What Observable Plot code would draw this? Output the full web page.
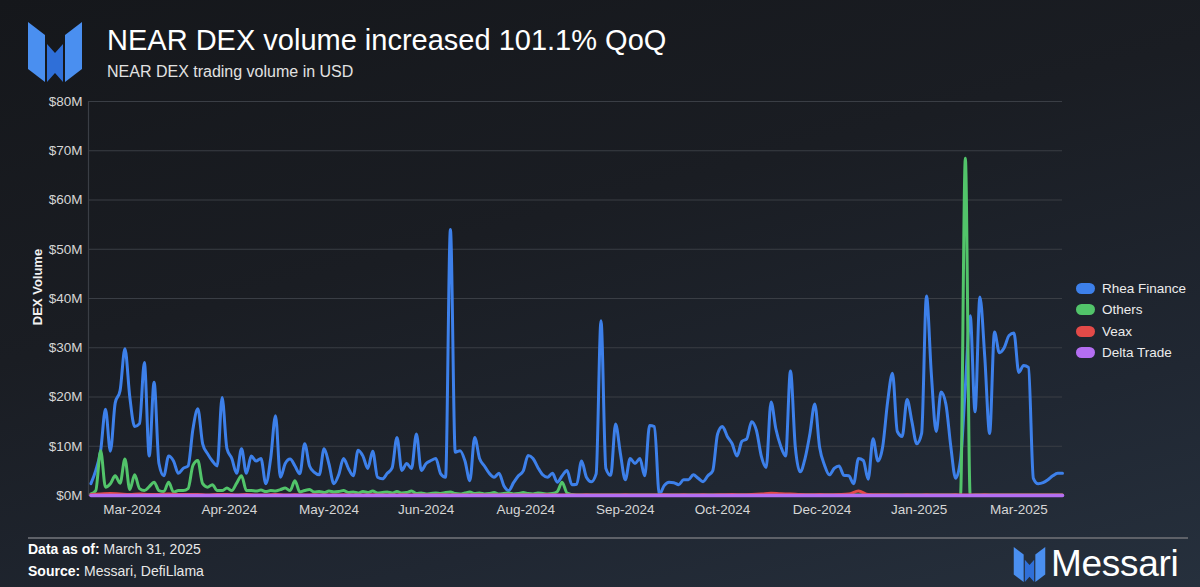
<!DOCTYPE html>
<html>
<head>
<meta charset="utf-8">
<script src="https://cdn.jsdelivr.net/npm/d3@7"></script>
<script src="https://cdn.jsdelivr.net/npm/@observablehq/plot@0.6"></script>
<style>
  html, body { margin: 0; padding: 0; }
  body { width: 1200px; height: 587px; overflow: hidden; font-family: "Liberation Sans", Arial, Helvetica, sans-serif; }
  #page { position: relative; width: 1200px; height: 587px; overflow: hidden;
    background: linear-gradient(165deg, #15171b 0%, #1a1d23 40%, #202732 75%, #26303d 100%); color: #fff; }
  #logo { position: absolute; left: 28px; top: 22px; }
  #title { position: absolute; left: 107px; top: 24px; font-size: 29px; color: #fff; white-space: nowrap; letter-spacing: 0; }
  #subtitle { position: absolute; left: 107px; top: 63px; font-size: 16px; color: #e2e2e2; white-space: nowrap; }
  #chart { position: absolute; left: 0; top: 88px; }
  #ylabel { position: absolute; left: 37px; top: 287px; transform: translate(-50%, -50%) rotate(-90deg);
    font-size: 13px; font-weight: bold; color: #f2f2f2; white-space: nowrap; }
  #legend { position: absolute; left: 1076px; top: 278px; }
  .item { display: flex; align-items: center; height: 21.3px; font-size: 13.5px; color: #ececec; white-space: nowrap; }
  .sw { width: 19px; height: 11px; border-radius: 6px; margin-right: 7px; }
  #rule { position: absolute; left: 28px; top: 537px; width: 1160px; height: 2px; background: #5e6168; }
  #foot1, #foot2 { position: absolute; left: 28px; font-size: 14px; color: #e8e8e8; white-space: nowrap; }
  #foot1 { top: 541px; }
  #foot2 { top: 563px; }
  #foot1 b, #foot2 b { color: #fff; }
  #brand { position: absolute; left: 1013px; top: 543px; display: flex; align-items: center; }
  #brand span { font-size: 37px; color: #fff; margin-left: 5px; letter-spacing: -0.3px; }
</style>
</head>
<body>
<div id="page">
  <svg id="logo" width="54" height="60" viewBox="0 0 54 60">
    <polygon points="0,0 17,13 17,60 0,47" fill="#4a8ff0"/>
    <polygon points="19,22 27,31 35,22 35,60 27,51 19,60" fill="#2f6fd8"/>
    <polygon points="54,0 37,13 37,60 54,47" fill="#4a8ff0"/>
  </svg>
  <div id="title">NEAR DEX volume increased 101.1% QoQ</div>
  <div id="subtitle">NEAR DEX trading volume in USD</div>
  <div id="chart"></div>
  <div id="ylabel">DEX Volume</div>
  <div id="legend"></div>
  <div id="rule"></div>
  <div id="foot1"><b>Data as of:</b> March 31, 2025</div>
  <div id="foot2"><b>Source:</b> Messari, DefiLlama</div>
  <div id="brand">
    <svg width="33" height="35" viewBox="0 0 54 60">
      <polygon points="0,0 17,13 17,60 0,47" fill="#4a8ff0"/>
      <polygon points="19,22 27,31 35,22 35,60 27,51 19,60" fill="#2f6fd8"/>
      <polygon points="54,0 37,13 37,60 54,47" fill="#4a8ff0"/>
    </svg>
    <span>Messari</span>
  </div>
</div>
<script>
// ---- data (USD millions) ----
const seriesNames = ["Rhea Finance", "Others", "Veax", "Delta Trade"];
const seriesColors = ["#3d80ea", "#52c46a", "#e34a48", "#b46ef2"];

const domainStart = "2024-02-24";
const domainEnd = "2025-03-31";
const firstDate = "2024-02-25";

// Rhea Finance, every 2 days from 2024-02-25
const rheaStepDays = 2;
const rheaValues = [
  2.4, 5.1, 9.1, 17.5, 9, 18.8, 21.3, 29.8, 20, 14,
  14.6, 27, 8, 23, 6.5, 4, 8, 7, 4.5, 5.5,
  6, 13.5, 17.6, 10.5, 8.5, 7, 6, 19.9, 9.5, 7.5,
  4.5, 9.5, 4.5, 8, 7, 7.5, 2.4, 7.5, 16.2, 3.7,
  6.5, 7.4, 6, 4.4, 10.5, 6, 4.7, 4.2, 9.5, 6.4,
  2.4, 4.2, 7.5, 5.5, 4, 9.2, 8, 5.5, 9, 3.7,
  3.4, 4.5, 5.6, 11.8, 5.1, 6.5, 5.5, 12.5, 5.1, 6.5,
  7.1, 7.5, 4.4, 3.7, 54, 8.8, 9.1, 7, 3, 11.8,
  7.5, 6, 4.5, 3.7, 4.5, 2, 1, 2.6, 4, 5,
  8.1, 7.5, 5.7, 4.2, 3.7, 4.5, 2.7, 4, 5.1, 2.2,
  2.3, 7, 3.7, 2.8, 4.4, 35.5, 5.5, 4.1, 14.5, 8.5,
  3.2, 7.5, 6.5, 7.5, 4, 14.2, 14, 0.2, 2, 2.7,
  2.6, 2.2, 3.2, 3.2, 4.2, 3.5, 2.8, 4, 5, 12.5,
  14, 12, 10.5, 8, 11, 11.5, 15, 13.2, 8, 5.7,
  19, 13.5, 10, 8, 25.3, 9.8, 4.8, 7.5, 12.5, 18.6,
  9.8, 6.2, 4.2, 5.5, 6, 4.1, 4, 2.4, 7.5, 7.1,
  3.3, 11.5, 7, 10, 19, 24.8, 13, 12, 19.5, 15,
  10.5, 12.6, 40.5, 24.7, 13, 21, 18.5, 10, 3.5, 7.2,
  22, 36.5, 17, 40.3, 28.1, 12.6, 33.2, 29, 30, 32.5,
  33, 25, 26.4, 26, 3.5, 2.4, 2.6, 3.2, 4, 4.5,
  4.5
];

// Others, every 2 days from 2024-02-25
const othersStepDays = 2;
const othersValues = [
  0.3, 1, 9.1, 1.7, 2.4, 4, 2.5, 7.4, 1.2, 4.2,
  1.4, 1, 1.8, 2.7, 1, 0.8, 2.7, 0.7, 1, 1,
  1.4, 6.1, 7.1, 2.4, 1.7, 2.2, 1, 1, 1.5, 1,
  2.5, 4, 1, 1, 0.9, 1.1, 0.8, 1, 0.9, 1.2,
  1.5, 1, 3, 0.7, 1, 1.2, 0.7, 0.8, 0.6, 0.9,
  0.7, 0.8, 1, 0.6, 0.7, 0.5, 0.8, 0.6, 0.9, 0.5,
  0.6, 0.7, 0.5, 0.8, 0.5, 0.6, 0.9, 0.4, 0.5, 0.3,
  0.4, 0.5, 0.4, 0.6, 0.7, 0.4, 0.3, 0.5, 0.7, 0.4,
  0.5, 0.3, 0.4, 0.6, 0.3, 0.4, 0.5, 0.3, 0.4, 0.6,
  0.4, 0.3, 0.5, 0.4, 0.3, 0.4, 0.8, 2.7, 0.5, 0.2,
  0.1, 0.1, 0.1, 0.1, 0.1, 0.1, 0.1, 0.1, 0.1, 0.1,
  0.1, 0.1, 0.1, 0.1, 0.1, 0.1, 0.1, 0.1, 0.1, 0.1,
  0.1, 0.1, 0.1, 0.1, 0.1, 0.1, 0.1, 0.1, 0.1, 0.1,
  0.1, 0.1, 0.1, 0.1, 0.1, 0.1, 0.1, 0.1, 0.1, 0.1,
  0.1, 0.1, 0.1, 0.1, 0.1, 0.1, 0.1, 0.1, 0.1, 0.1,
  0.1, 0.1, 0.1, 0.1, 0.1, 0.1, 0.1, 0.1, 0.1, 0.1,
  0.1, 0.1, 0.1, 0.1, 0.1, 0.1, 0.1, 0.1, 0.1, 0.1,
  0.1, 0.1, 0.1, 0.1, 0.1, 0.1, 0.1, 0.1, 0.1, 0,
  68.5, 0, 0.1, 0.1, 0.1, 0.1, 0.1, 0.1, 0.1, 0.1,
  0.1, 0.1, 0.1, 0.1, 0.1, 0.1, 0.1, 0.1, 0.1, 0.1,
  0.1
];

// Veax, every 4 days from 2024-02-25
const veaxStepDays = 4;
const veaxValues = [
  0.2, 0.3, 0.4, 0.3, 0.2, 0.3, 0.2, 0.2, 0.3, 0.2,
  0.2, 0.2, 0.1, 0.2, 0.2, 0.1, 0.2, 0.1, 0.1, 0.2,
  0.1, 0.15, 0.1, 0.15, 0.1, 0.1, 0.15, 0.1, 0.1, 0.15,
  0.1, 0.1, 0.15, 0.1, 0.1, 0.1, 0.15, 0.1, 0.1, 0.1,
  0.15, 0.1, 0.1, 0.15, 0.1, 0.1, 0.1, 0.15, 0.1, 0.1,
  0.1, 0.15, 0.1, 0.1, 0.1, 0.15, 0.1, 0.1, 0.1, 0.15,
  0.1, 0.15, 0.1, 0.15, 0.1, 0.15, 0.2, 0.15, 0.2, 0.3,
  0.45, 0.35, 0.3, 0.2, 0.15, 0.2, 0.15, 0.2, 0.3, 0.9,
  0.2, 0.15, 0.15, 0.1, 0.15, 0.1, 0.15, 0.1, 0.1, 0.15,
  0.1, 0.1, 0.15, 0.1, 0.1, 0.1, 0.1, 0.1, 0.1, 0.1,
  0.1
];

// Delta Trade, every 8 days from 2024-02-25
const deltaStepDays = 8;
const deltaValues = [
  0.02, 0.02, 0.02, 0.02, 0.02, 0.02, 0.02, 0.02, 0.02, 0.02,
  0.02, 0.02, 0.02, 0.02, 0.02, 0.02, 0.02, 0.02, 0.02, 0.02,
  0.02, 0.02, 0.02, 0.02, 0.02, 0.02, 0.02, 0.02, 0.02, 0.02,
  0.02, 0.02, 0.02, 0.02, 0.02, 0.02, 0.02, 0.02, 0.02, 0.02,
  0.02, 0.02, 0.02, 0.02, 0.02, 0.02, 0.02, 0.02, 0.02, 0.02,
  0.02
];

const tickDates = ["2024-03-13", "2024-04-22", "2024-06-02", "2024-07-12", "2024-08-22",
                   "2024-10-02", "2024-11-11", "2024-12-22", "2025-01-31", "2025-03-13"];
const tickLabels = ["Mar-2024", "Apr-2024", "May-2024", "Jun-2024", "Aug-2024",
                    "Sep-2024", "Oct-2024", "Dec-2024", "Jan-2025", "Mar-2025"];
const yTicks = [0, 10, 20, 30, 40, 50, 60, 70, 80];

// ---- build ----
const parse = d3.utcParse("%Y-%m-%d");
const start = parse(firstDate);
function rows(values, step, name) {
  return values.map((v, i) => ({ date: d3.utcDay.offset(start, i * step), value: v, series: name }));
}
const rhea = rows(rheaValues, rheaStepDays, seriesNames[0]);
const others = rows(othersValues, othersStepDays, seriesNames[1]);
const veax = rows(veaxValues, veaxStepDays, seriesNames[2]);
const delta = rows(deltaValues, deltaStepDays, seriesNames[3]);

const ticks = tickDates.map(parse);
const labelByTime = new Map(ticks.map((d, i) => [+d, tickLabels[i]]));
const xStart = parse(domainStart), xEnd = parse(domainEnd);

const chart = Plot.plot({
  width: 1200,
  height: 437,
  marginLeft: 88,
  marginRight: 138,
  marginTop: 13,
  marginBottom: 30,
  style: { background: "transparent", color: "#d6d6d6", fontSize: "13.5px",
           fontFamily: "'Liberation Sans', Arial, Helvetica, sans-serif", overflow: "visible" },
  x: { type: "utc", domain: [xStart, xEnd], ticks: ticks, tickFormat: d => labelByTime.get(+d),
       tickSize: 0, tickPadding: 9, label: null },
  y: { domain: [0, 80], ticks: yTicks, tickFormat: d => `$${d}M`, tickSize: 0, tickPadding: 6, label: null },
  marks: [
    Plot.ruleY(yTicks, { stroke: "#3a3e45", strokeWidth: 1.2 }),
    Plot.ruleX([xStart], { stroke: "#3a3e45", strokeWidth: 1.2 }),
    Plot.lineY(rhea, { x: "date", y: "value", stroke: seriesColors[0], strokeWidth: 3, curve: "monotone-x", strokeLinejoin: "round" }),
    Plot.lineY(others, { x: "date", y: "value", stroke: seriesColors[1], strokeWidth: 3, curve: "monotone-x", strokeLinejoin: "round" }),
    Plot.lineY(veax, { x: "date", y: "value", stroke: seriesColors[2], strokeWidth: 3, curve: "monotone-x", strokeLinejoin: "round" }),
    Plot.lineY(delta, { x: "date", y: "value", stroke: seriesColors[3], strokeWidth: 3.5, curve: "monotone-x", strokeLinejoin: "round" })
  ]
});
document.getElementById("chart").appendChild(chart);

const legend = document.getElementById("legend");
seriesNames.forEach((n, i) => {
  const row = document.createElement("div");
  row.className = "item";
  row.innerHTML = `<div class="sw" style="background:${seriesColors[i]}"></div><span>${n}</span>`;
  legend.appendChild(row);
});
</script>
</body>
</html>
